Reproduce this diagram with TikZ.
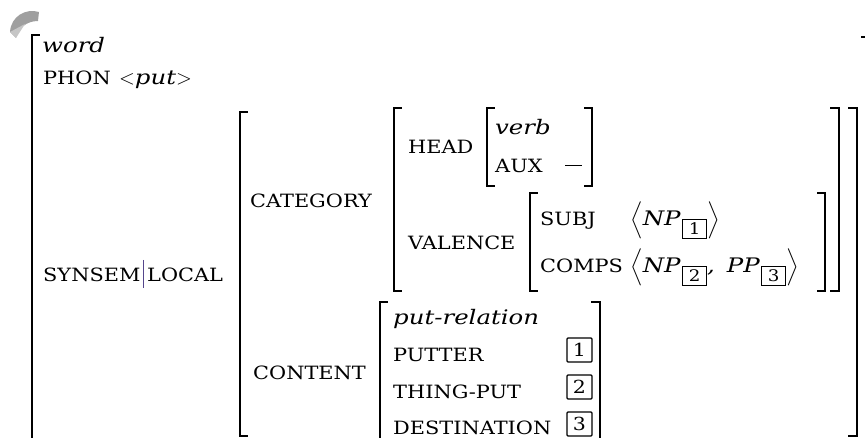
\documentclass[tikz,border=0pt]{standalone}
\usepackage{amsmath}
\usepackage{fontspec}
\setmainfont{DejaVu Serif}
\newfontfamily\attrfont{DejaVu Serif}[FakeStretch=1.14]
\newfontfamily\typfont{DejaVu Serif}[FakeStretch=1.22]
\definecolor{barcol}{RGB}{85,70,140}
\newcommand{\tagsub}[1]{\kern1.5pt\raisebox{-9pt}{\setlength{\fboxsep}{2.8pt}\setlength{\fboxrule}{1.2pt}\fbox{\makebox[17pt]{\fontsize{16}{16}\attrfont\upshape #1}}}}
\newcommand{\tp}[1]{{\fontsize{20}{24}\typfont\itshape #1}}
\tikzset{
  br/.style={line width=1.7pt, line cap=rect},
  txt/.style={anchor=base west, inner sep=0pt, font=\fontsize{22}{26}\selectfont},
  attr/.style={txt, font=\fontsize{18.3}{22}\attrfont},
  typ/.style={txt, font=\fontsize{20}{24}\typfont\itshape},
  tagbox/.style={draw, line width=1.2pt, rounded corners=1pt, minimum width=25pt, minimum height=24pt, inner sep=0pt, font=\fontsize{18}{22}\attrfont}
}
\begin{document}
\begin{tikzpicture}[x=1pt,y=-1pt]
\useasboundingbox (0,0) rectangle (865,438);
\clip (0,0) rectangle (865,438);
% page-curl artifact
\fill[gray!75] (10,32) .. controls (11,16) and (26,8) .. (39,12) -- (38,21) .. controls (27,21) and (18,28) .. (16,38) -- cycle;
\fill[gray!45] (10,32) -- (25,24) -- (16,38) -- cycle;
% outer bracket
\draw[br] (39,35) -- (32,35) -- (32,445);
\draw[br] (862,37) -- (868,37);
% top level
\node[typ] (word) at (42,53) {word};
\node[attr] (phon) at (43,85) {PHON};
\node[txt] (put) at (119,85) {$<$\tp{put}$>$};
\node[attr] (synsem) at (43,282) {SYNSEM};
\draw[barcol, line width=1pt] (143,260) -- (143,288);
\node[attr] (local) at (147,282) {LOCAL};
% local bracket
\draw[br] (247,112) -- (240,112) -- (240,436) -- (247,436);
\draw[br] (849,108) -- (857,108) -- (857,436) -- (849,436);
% category
\node[attr] (cat) at (250,208) {CATEGORY};
\draw[br] (401,108) -- (394,108) -- (394,291) -- (401,291);
\draw[br] (831,108) -- (839,108) -- (839,291) -- (831,291);
\node[attr] (head) at (408,154) {HEAD};
\draw[br] (494,108) -- (487,108) -- (487,186) -- (494,186);
\draw[br] (585,108) -- (592,108) -- (592,186) -- (585,186);
\node[typ] (verb) at (495,135) {verb};
\node[attr] (aux) at (495,173) {AUX};
\node[txt] (minus) at (565,173) {\rule[7pt]{17pt}{1.4pt}};
\node[attr] (val) at (408,250) {VALENCE};
\draw[br] (537,193) -- (530,193) -- (530,291) -- (537,291);
\draw[br] (818,193) -- (825,193) -- (825,291) -- (818,291);
\node[attr] (subj) at (540,226) {SUBJ};
\node[attr] (comps) at (540,273) {COMPS};
\node[txt] (subjv) at (630,226) {$\Big\langle$\tp{NP}\tagsub{1}$\Big\rangle$};
\node[txt] (compsv) at (630,273) {$\Big\langle$\tp{NP}\tagsub{2}\tp{,}\hspace{12pt}\tp{PP}\tagsub{3}$\Big\rangle$};
% content
\node[attr] (cont) at (253,380) {CONTENT};
\draw[br] (387,302) -- (380,302) -- (380,445);
\draw[br] (592,302) -- (600,302) -- (600,445);
\node[typ] (rel) at (393,325) {put-relation};
\node[attr] (putter) at (393,362) {PUTTER};
\node[attr] (thing) at (393,398) {THING-PUT};
\node[attr] (dest) at (393,434) {DESTINATION};
\node[tagbox] (t1) at (579.5,350) {1};
\node[tagbox] (t2) at (579.5,387) {2};
\node[tagbox] (t3) at (579.5,424) {3};
\end{tikzpicture}
\end{document}
